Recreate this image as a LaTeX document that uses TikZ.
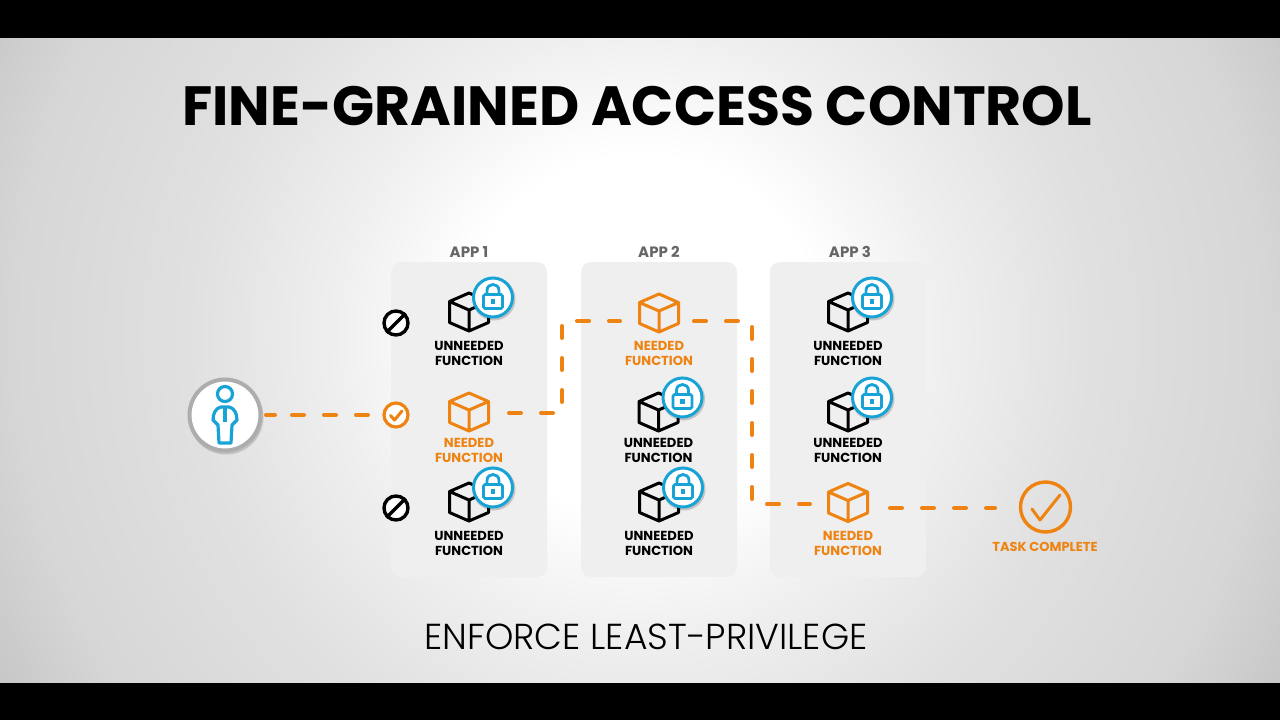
\documentclass[tikz,border=0pt]{standalone}
\usepackage{fontspec}
\setmainfont{Poppins}
\newfontfamily\lightf{Poppins Light}
\definecolor{org}{HTML}{EE8312}
\definecolor{blu}{HTML}{18A3D6}
\definecolor{pan}{HTML}{EFEFEF}
\definecolor{lab}{HTML}{666666}
\pgfdeclareradialshading{bgshade}{\pgfpoint{0pt}{0pt}}{
 color(0pt)=(white); color(6pt)=(white); color(10pt)=(white!94!black); color(15pt)=(white!88!black); color(21pt)=(white!84!black); color(25pt)=(white!77!black); color(50pt)=(white!70!black)}
\tikzset{
 x=1pt,y=-1pt,
 panel/.style={fill=pan,draw=none,rounded corners=10pt},
 flabel/.style={font=\bfseries\fontsize{13.1}{15.2}\selectfont,align=center,inner sep=0pt},
 applabel/.style={font=\bfseries\fontsize{15}{17}\selectfont,text=lab,inner sep=0pt},
 flow/.style={draw=org,line width=4pt,line cap=round,dash pattern=on 12pt off 20pt},
 anchorpt/.style={inner sep=0pt,minimum size=0pt},
 pics/cube/.style={code={
  \draw[#1,line width=3pt,line join=round,line cap=round]
   (0,-19)--(19.5,-10.5)--(19.5,10.5)--(0,19)--(-19.5,10.5)--(-19.5,-10.5)--cycle
   (-19.5,-10.5)--(0,-2)--(19.5,-10.5) (0,-2)--(0,19);
 }},
 pics/lockbadge/.style={code={
  \fill[black,opacity=.18] (1,1.5) circle (21.5);
  \fill[white] (0,0) circle (19.5);
  \draw[blu,line width=3pt] (0,0) circle (19.5);
  \draw[blu,line width=2.8pt,rounded corners=1.5pt] (-9.5,-3) rectangle (9.5,11);
  \draw[blu,line width=2.8pt] (-6,-3) -- (-6,-7) .. controls (-6,-15) and (6,-15) .. (6,-7) -- (6,-3);
  \fill[blu] (-2.3,1.5) rectangle (2.3,6.5);
 }},
}
\newcommand{\funcunit}[5]{% x, y, name, locked, label offset
 \ifnum#4=1
  \pic at (#1,#2) {cube=black};
  \pic at (#1+24,#2-14.5) {lockbadge};
  \node[flabel,text=black] (#3) at (#1,#2+#5) {UNNEEDED\\FUNCTION};
 \else
  \pic at (#1,#2) {cube=org};
  \node[flabel,text=org] (#3) at (#1,#2+#5) {NEEDED\\FUNCTION};
 \fi}
\begin{document}
\begin{tikzpicture}
\useasboundingbox (0,0) rectangle (1280,720);
\fill[black] (0,0) rectangle (1280,720);
\begin{scope}
 \clip (0,38) rectangle (1280,682);
 \fill[white!75!black] (0,0) rectangle (1280,720);
 \node[anchorpt,shape=circle,minimum size=1500pt,shading=bgshade] at (640,335) {};
\end{scope}
\node[font=\bfseries\fontsize{55.3}{60}\selectfont,inner sep=0pt] (title) at (637,106) {FINE-GRAINED ACCESS CONTROL};
\node[font=\lightf\fontsize{36.1}{40}\selectfont,inner sep=0pt] (sub) at (646,637) {ENFORCE LEAST-PRIVILEGE};
\fill[panel] (391,262) rectangle (547,577);
\fill[panel] (581,262) rectangle (737,577);
\fill[panel] (770,262) rectangle (926,577);
\node[applabel] (a1) at (469,252) {APP 1};
\node[applabel] (a2) at (659,252) {APP 2};
\node[applabel] (a3) at (850,252) {APP 3};
% flows
\coordinate (uout) at (266,415);
\coordinate (uin) at (368,415);
\coordinate (f1) at (509,413);
\coordinate (f1b) at (620,321);
\coordinate (f2a) at (694,321);
\coordinate (f2) at (810,504);
\coordinate (f3) at (890,508);
\coordinate (f4) at (995,508);
\draw[flow,dash pattern=on 9pt off 17pt on 12pt off 20pt on 12pt off 20pt on 12pt off 20pt] (uout) -- (uin);
\draw[flow] (f1) -- (562,413) -- (562,321) -- (f1b);
\draw[flow] (f2a) -- (752,321) -- (752,504) -- (f2);
\draw[flow] (f3) -- (f4);
% functions
\funcunit{469}{312}{u11}{1}{41.5}
\funcunit{469}{412}{n12}{0}{38.5}
\funcunit{469}{502}{u13}{1}{41.5}
\funcunit{659}{313}{n21}{0}{40.5}
\funcunit{658.5}{412}{u22}{1}{38.5}
\funcunit{659}{502}{u23}{1}{41.5}
\funcunit{848}{312}{u31}{1}{41.5}
\funcunit{848}{412}{u32}{1}{38.5}
\funcunit{848}{502.5}{n33}{0}{41}
% no signs
\foreach \y/\n in {323/no1,508/no2}{
 \node[draw=black,line width=3.4pt,circle,minimum size=24pt,inner sep=0pt,fill=white] (\n) at (396,\y) {};
 \draw[black,line width=3.4pt] (\n.north east) -- (\n.south west);
}
% check
\node[draw=org,line width=3.2pt,circle,minimum size=24pt,inner sep=0pt,fill=white] (chk) at (396,415) {};
\draw[org,line width=3pt,line cap=round,line join=round] (390.5,415.5) -- (394.5,420) -- (402,411);
% user
\node[circle,fill=black,opacity=.15,minimum size=75pt,inner sep=0pt] at (226,417) {};
\node[circle,fill=white,draw=white!68!black,line width=4pt,minimum size=71pt,inner sep=0pt] (user) at (225,415) {};
\begin{scope}[blu,line width=3.2pt,line join=round]
 \draw (225,394) circle (7.5);
 \draw (221,407) .. controls (216,408) and (213,413) .. (213,420) -- (218,425) -- (219,443) -- (231,443) -- (232,425) -- (237,420) .. controls (237,413) and (234,408) .. (229,407) -- cycle;
 \draw (225,407) -- (225,422);
\end{scope}
% task complete
\node[draw=org,line width=3.4pt,circle,minimum size=50pt,inner sep=0pt] (done) at (1045.5,507) {};
\draw[org,line width=3pt,line cap=round,line join=round] (1032,509) -- (1040,520) -- (1060,495);
\node[font=\bfseries\fontsize{13}{15}\selectfont,text=org,inner sep=0pt] (tc) at (1045,547) {TASK COMPLETE};
\end{tikzpicture}
\end{document}
